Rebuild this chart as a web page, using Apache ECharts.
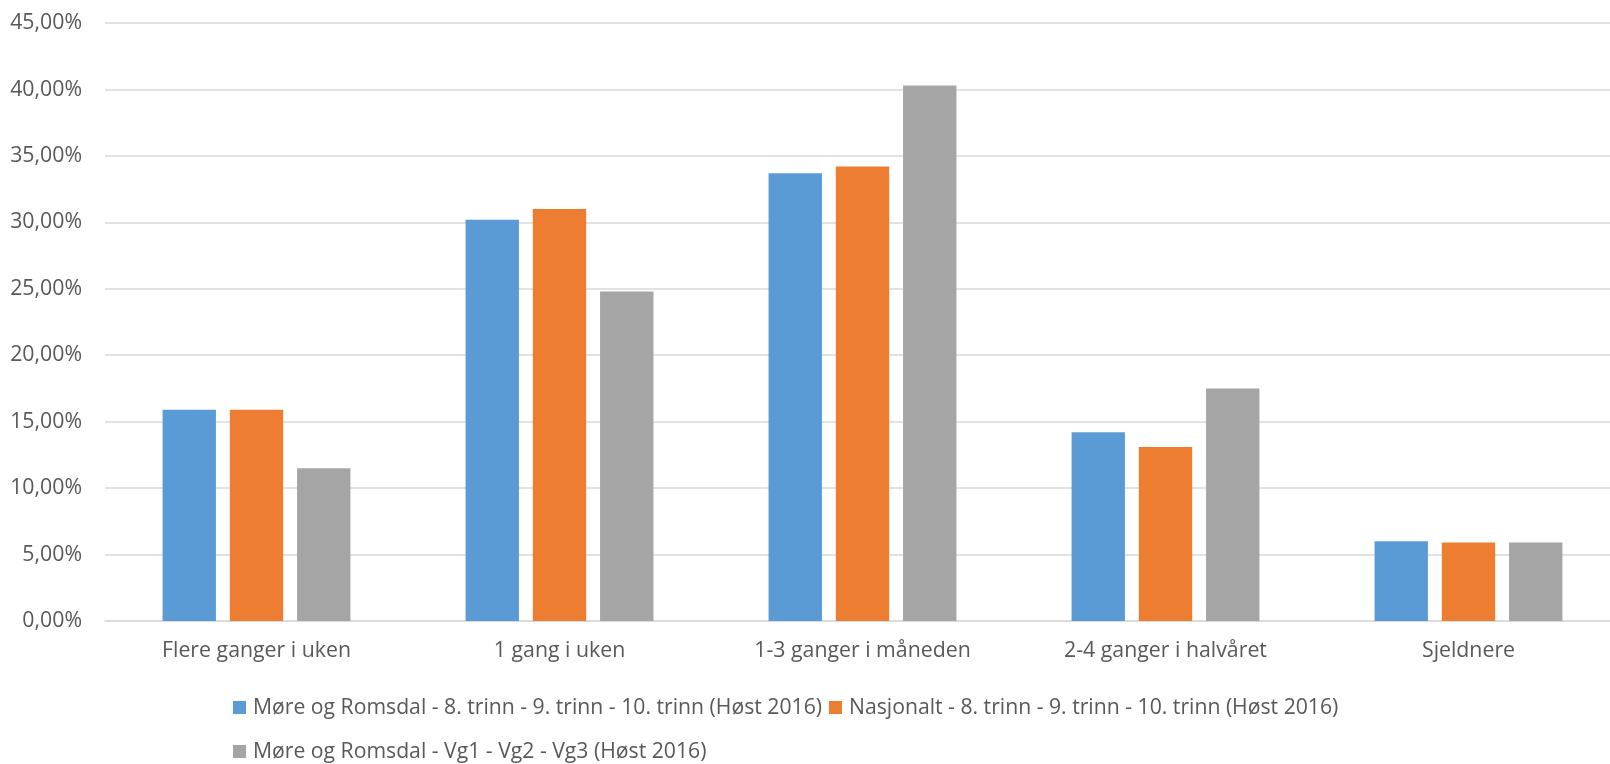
<!DOCTYPE html>
<html>
<head>
<meta charset="utf-8">
<script src="https://cdn.jsdelivr.net/npm/echarts@6/dist/echarts.min.js"></script>
<style>
html,body{margin:0;padding:0;background:#fff;overflow:hidden;width:1610px;height:764px;}
#chart{width:1640px;height:764px;}
</style>
</head>
<body>
<div id="chart"></div>
<script>
const categories = ['Flere ganger i uken', '1 gang i uken', '1-3 ganger i måneden', '2-4 ganger i halvåret', 'Sjeldnere'];
const seriesNames = [
  'Møre og Romsdal - 8. trinn - 9. trinn - 10. trinn (Høst 2016)',
  'Nasjonalt - 8. trinn - 9. trinn - 10. trinn (Høst 2016)',
  'Møre og Romsdal - Vg1 - Vg2 - Vg3 (Høst 2016)'
];
const moreUngdom = [15.9, 30.2, 33.7, 14.2, 6.0];
const nasjonalt = [15.9, 31.0, 34.2, 13.1, 5.9];
const moreVgs = [11.5, 24.8, 40.3, 17.5, 5.9];
const colors = ['#5B9BD5', '#ED7D31', '#A5A5A5'];
const fontFamily = '"Open Sans", "Noto Sans", sans-serif';

const chart = echarts.init(document.getElementById('chart'));
const fmt = v => v.toFixed(2).replace('.', ',') + '%';
const legendText = { fontSize: 21.2, color: '#595959', fontFamily: fontFamily, padding: [0, 0, 0, 2] };
chart.setOption({
  animation: false,
  color: colors,
  textStyle: { fontFamily: fontFamily },
  grid: { left: 105, right: 20, top: 23, bottom: 143, containLabel: false },
  legend: [
    {
      left: 228, top: 692,
      itemWidth: 13, itemHeight: 13, itemGap: 7,
      icon: 'rect',
      textStyle: legendText,
      data: [seriesNames[0], seriesNames[1]]
    },
    {
      left: 228, top: 736,
      itemWidth: 13, itemHeight: 13, itemGap: 7,
      icon: 'rect',
      textStyle: legendText,
      data: [seriesNames[2]]
    }
  ],
  xAxis: {
    type: 'category',
    data: categories,
    axisLine: { lineStyle: { color: '#D9D9D9', width: 1.5 } },
    axisTick: { show: false },
    axisLabel: { fontSize: 21.3, color: '#595959', margin: 19 }
  },
  yAxis: {
    type: 'value',
    min: 0, max: 45, interval: 5,
    axisLine: { show: false },
    axisTick: { show: false },
    splitLine: { lineStyle: { color: '#D9D9D9', width: 1.5 } },
    axisLabel: { fontSize: 21.3, color: '#595959', margin: 23, formatter: fmt }
  },
  series: [
    { name: seriesNames[0], type: 'bar', data: moreUngdom, barGap: '26%', barCategoryGap: '38%' },
    { name: seriesNames[1], type: 'bar', data: nasjonalt, barGap: '26%', barCategoryGap: '38%' },
    { name: seriesNames[2], type: 'bar', data: moreVgs, barGap: '26%', barCategoryGap: '38%' }
  ]
});
</script>
</body>
</html>
